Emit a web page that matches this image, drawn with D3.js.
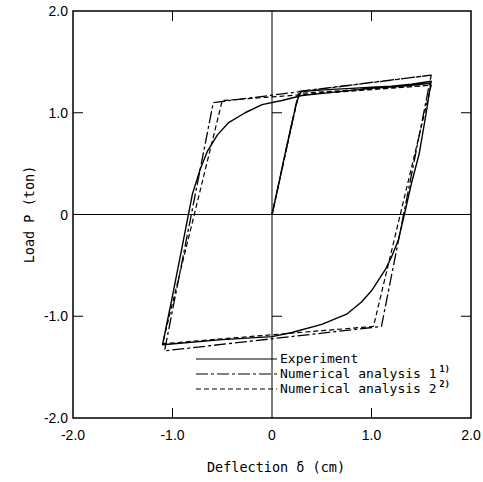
<!DOCTYPE html>
<html><head><meta charset="utf-8">
<script src="https://cdn.jsdelivr.net/npm/d3@7"></script>
<style>body{margin:0;background:#fff}svg{display:block}</style>
</head><body>
<script>
const xTicks = [-2, -1, 0, 1, 2];
const yTicks = [-2, -1, 0, 1, 2];
const xTickLabels = ["-2.0", "-1.0", "0", "1.0", "2.0"];
const yTickLabels = ["-2.0", "-1.0", "0", "1.0", "2.0"];
const experiment = [[0,0],[0.05,0.22],[0.1,0.45],[0.15,0.68],[0.2,0.9],[0.24,1.07],[0.27,1.17],[0.3,1.21],[0.45,1.22],[0.6,1.23],[0.8,1.24],[1.0,1.25],[1.2,1.26],[1.4,1.28],[1.6,1.31],
  [1.55,1.0],[1.48,0.6],[1.4,0.3],[1.33,0],[1.27,-0.25],[1.2,-0.42],[1.14,-0.54],[1.08,-0.63],[1.0,-0.75],[0.9,-0.86],[0.75,-0.98],[0.5,-1.08],[0.2,-1.16],[0,-1.2],[-0.5,-1.23],[-1.1,-1.28],
  [-1.0,-0.8],[-0.9,-0.3],[-0.8,0.2],[-0.72,0.45],[-0.65,0.62],[-0.55,0.78],[-0.44,0.9],[-0.27,1.0],[-0.1,1.08],[0.1,1.12],[0.3,1.17],[0.6,1.2],[1.0,1.24],[1.3,1.26],[1.6,1.29]];
const analysis1 = [[0,0],[0.27,1.21],[1.6,1.37],[1.1,-1.1],[-1.08,-1.34],[-0.59,1.1],[1.6,1.37]];
const analysis2 = [[0,0],[0.27,1.19],[1.6,1.27],[1.02,-1.1],[-1.1,-1.27],[-0.5,1.12],[1.6,1.27]];
const legendLabels = ["Experiment", "Numerical analysis 1", "Numerical analysis 2"];
const legendSup = ["", "1)", "2)"];

const W = 483, H = 482;
const svg = d3.select("body").append("svg").attr("width", W).attr("height", H);
const x = d3.scaleLinear().domain([-2, 2]).range([73, 471]);
const y = d3.scaleLinear().domain([-2, 2]).range([418, 11]);

svg.append("line").attr("x1", x(0)).attr("x2", x(0)).attr("y1", y(2)).attr("y2", y(-2)).attr("stroke", "#000").attr("stroke-width", 1);
svg.append("line").attr("x1", x(-2)).attr("x2", x(2)).attr("y1", y(0)).attr("y2", y(0)).attr("stroke", "#000").attr("stroke-width", 1);

svg.append("rect").attr("x", x(-2)).attr("y", y(2)).attr("width", x(2) - x(-2)).attr("height", y(-2) - y(2))
  .attr("fill", "none").attr("stroke", "#000").attr("stroke-width", 1.5);

const tk = 10;
[-1, 1].forEach(v => {
  svg.append("line").attr("x1", x(-2)).attr("x2", x(-2) + tk).attr("y1", y(v)).attr("y2", y(v)).attr("stroke", "#000");
  svg.append("line").attr("x1", x(2)).attr("x2", x(2) - tk).attr("y1", y(v)).attr("y2", y(v)).attr("stroke", "#000");
  svg.append("line").attr("x1", x(0)).attr("x2", x(0) + tk).attr("y1", y(v)).attr("y2", y(v)).attr("stroke", "#000");
  svg.append("line").attr("x1", x(v)).attr("x2", x(v)).attr("y1", y(-2)).attr("y2", y(-2) - tk).attr("stroke", "#000");
  svg.append("line").attr("x1", x(v)).attr("x2", x(v)).attr("y1", y(2)).attr("y2", y(2) + tk).attr("stroke", "#000");
});

const tf = "'Liberation Sans', Arial, sans-serif";
xTicks.forEach((v, i) => {
  svg.append("text").attr("x", x(v)).attr("y", y(-2) + 22).attr("text-anchor", "middle")
    .attr("font-family", tf).attr("font-size", 14).text(xTickLabels[i]);
});
yTicks.forEach((v, i) => {
  svg.append("text").attr("x", x(-2) - 5).attr("y", y(v) + 5).attr("text-anchor", "end")
    .attr("font-family", tf).attr("font-size", 14).text(yTickLabels[i]);
});

const mf = "'DejaVu Sans Mono', 'Liberation Mono', monospace";
svg.append("text").attr("x", 276).attr("y", 472).attr("text-anchor", "middle")
  .attr("font-family", mf).attr("font-size", 13.5).text("Deflection δ (cm)");
svg.append("text").attr("transform", `translate(34,${y(0)}) rotate(-90)`).attr("text-anchor", "middle")
  .attr("font-family", mf).attr("font-size", 13.5).text("Load P (ton)");

const line = d3.line().x(d => x(d[0])).y(d => y(d[1]));
const styles = [
  {dash: null, w: 1.4},
  {dash: "12,3,3,3", w: 1.3},
  {dash: "5,3", w: 1.2}
];
[experiment, analysis1, analysis2].forEach((data, i) => {
  svg.append("path").datum(data).attr("d", line).attr("fill", "none").attr("stroke", "#000")
    .attr("stroke-width", styles[i].w).attr("stroke-linejoin", "round")
    .attr("stroke-dasharray", styles[i].dash);
});

const ly = [359, 374, 389];
legendLabels.forEach((lab, i) => {
  svg.append("line").attr("x1", 196).attr("x2", 277).attr("y1", ly[i]).attr("y2", ly[i])
    .attr("stroke", "#000").attr("stroke-width", 1.2).attr("stroke-dasharray", styles[i].dash);
  const t = svg.append("text").attr("x", 280).attr("y", ly[i] + 4).attr("font-family", mf).attr("font-size", 13).text(lab);
  if (legendSup[i]) {
    t.append("tspan").attr("dx", 3).attr("dy", -6).attr("font-size", 8.5).attr("font-weight", "bold").text(legendSup[i]);
  }
});
</script>
</body></html>
